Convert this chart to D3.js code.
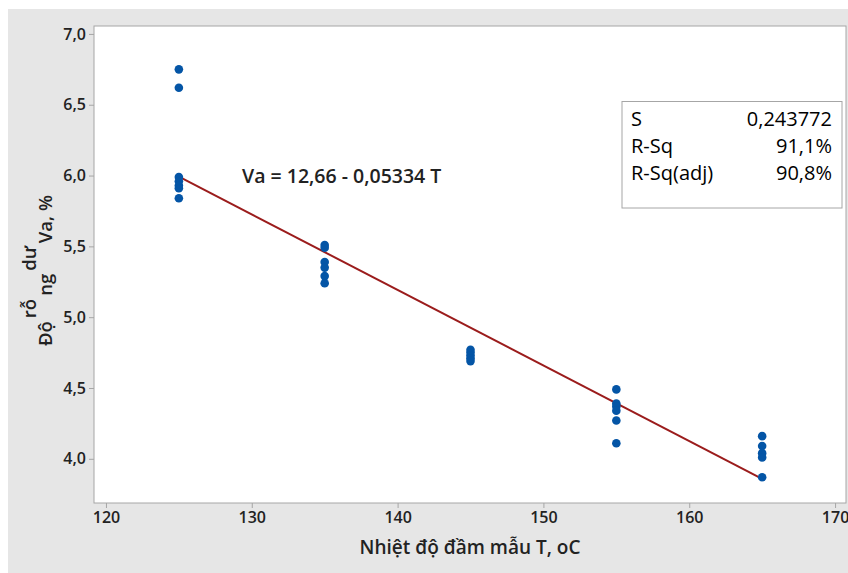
<!DOCTYPE html>
<html>
<head>
<meta charset="utf-8">
<script src="https://cdn.jsdelivr.net/npm/d3@7"></script>
<style>
  body { margin: 0; background: #fff; }
  svg { display: block; font-family: "Open Sans", "Noto Sans", sans-serif; }
</style>
</head>
<body>
<svg width="848" height="573"></svg>
<script>
// data
const temps = [125, 135, 145, 155, 165];
const va125 = [6.75, 6.62, 5.99, 5.96, 5.93, 5.91, 5.84];
const va135 = [5.51, 5.49, 5.39, 5.35, 5.29, 5.24];
const va145 = [4.77, 4.75, 4.73, 4.71, 4.69];
const va155 = [4.49, 4.39, 4.37, 4.34, 4.27, 4.11];
const va165 = [4.16, 4.09, 4.04, 4.01, 3.87];
const fit = { b0: 12.66, b1: -0.05334 };
const stats = [['S', '0,243772'], ['R-Sq', '91,1%'], ['R-Sq(adj)', '90,8%']];
const xTicks = [120, 130, 140, 150, 160, 170];
const yTicks = [4.0, 4.5, 5.0, 5.5, 6.0, 6.5, 7.0];

const groups = [va125, va135, va145, va155, va165];
const points = [];
groups.forEach((g, i) => g.forEach(v => points.push({ t: temps[i], v: v })));

const svg = d3.select('svg');
const fmt = d3.format('.1f');
const comma = d => fmt(d).replace('.', ',');

// outer grey panel
svg.append('rect')
  .attr('x', 8).attr('y', 9).attr('width', 840).attr('height', 564)
  .attr('fill', '#e6e6e6');

const plot = { left: 94, top: 26, right: 846, bottom: 503 };

const x = d3.scaleLinear().domain([119.18, 170.75]).range([plot.left, plot.right]);
const y = d3.scaleLinear().domain([3.688, 7.056]).range([plot.bottom, plot.top]);

svg.append('rect')
  .attr('x', plot.left).attr('y', plot.top)
  .attr('width', plot.right - plot.left).attr('height', plot.bottom - plot.top)
  .attr('fill', '#fff').attr('stroke', '#a6a6a6');

const xAxis = svg.append('g')
  .attr('transform', `translate(0,${plot.bottom})`)
  .call(d3.axisBottom(x).tickValues(xTicks).tickSize(5).tickSizeOuter(0).tickPadding(4));
const yAxis = svg.append('g')
  .attr('transform', `translate(${plot.left},0)`)
  .call(d3.axisLeft(y).tickValues(yTicks).tickSize(5).tickSizeOuter(0).tickFormat(comma).tickPadding(3));
[xAxis, yAxis].forEach(a => {
  a.attr('font-family', null).attr('font-size', null);
  a.select('.domain').remove();
  a.selectAll('.tick line').attr('stroke', '#a6a6a6');
  a.selectAll('.tick text')
    .style('font-size', '16px').style('font-weight', '600').attr('fill', '#222');
});

// fitted line
const line = d3.line().x(d => x(d)).y(d => y(fit.b0 + fit.b1 * d));
svg.append('path')
  .datum([temps[0], temps[temps.length - 1]])
  .attr('d', line)
  .attr('fill', 'none')
  .attr('stroke', '#9b1c1c')
  .attr('stroke-width', 2);

svg.append('g').selectAll('circle')
  .data(points)
  .enter().append('circle')
    .attr('cx', d => x(d.t))
    .attr('cy', d => y(d.v))
    .attr('r', 4.3)
    .attr('fill', '#0455a6');

// equation
svg.append('text')
  .attr('x', 242).attr('y', 183)
  .attr('font-size', 19.5).attr('font-weight', 600).attr('fill', '#222')
  .text('Va = 12,66 - 0,05334 T');

// stats box
const box = svg.append('g');
box.append('rect')
  .attr('x', 622).attr('y', 101.5).attr('width', 220).attr('height', 106.5)
  .attr('fill', '#fff').attr('stroke', '#a6a6a6');
stats.forEach((s, i) => {
  box.append('text').attr('x', 631).attr('y', 126 + i * 27)
    .attr('font-size', 20).attr('fill', '#000').text(s[0]);
  box.append('text').attr('x', 832).attr('y', 126 + i * 27)
    .attr('text-anchor', 'end')
    .attr('font-size', 20).attr('fill', '#000').text(s[1]);
});

// axis titles
svg.append('text')
  .attr('x', 470).attr('y', 554)
  .attr('text-anchor', 'middle')
  .attr('font-size', 19).attr('font-weight', 600).attr('fill', '#222')
  .text('Nhiệt độ đầm mẫu T, oC');

const yt = svg.append('text')
  .attr('transform', 'translate(52,346) rotate(-90)')
  .attr('font-size', 18.5).attr('font-weight', 600).attr('fill', '#222');
const parts = [['Độ', 0], ['rỗ', -16], ['ng', 16], ['dư', -16], ['Va, %', 16]];
parts.forEach((p, i) => {
  yt.append('tspan').attr('dy', p[1]).attr('dx', i ? 3 : 0).text(p[0]);
});
</script>
</body>
</html>
